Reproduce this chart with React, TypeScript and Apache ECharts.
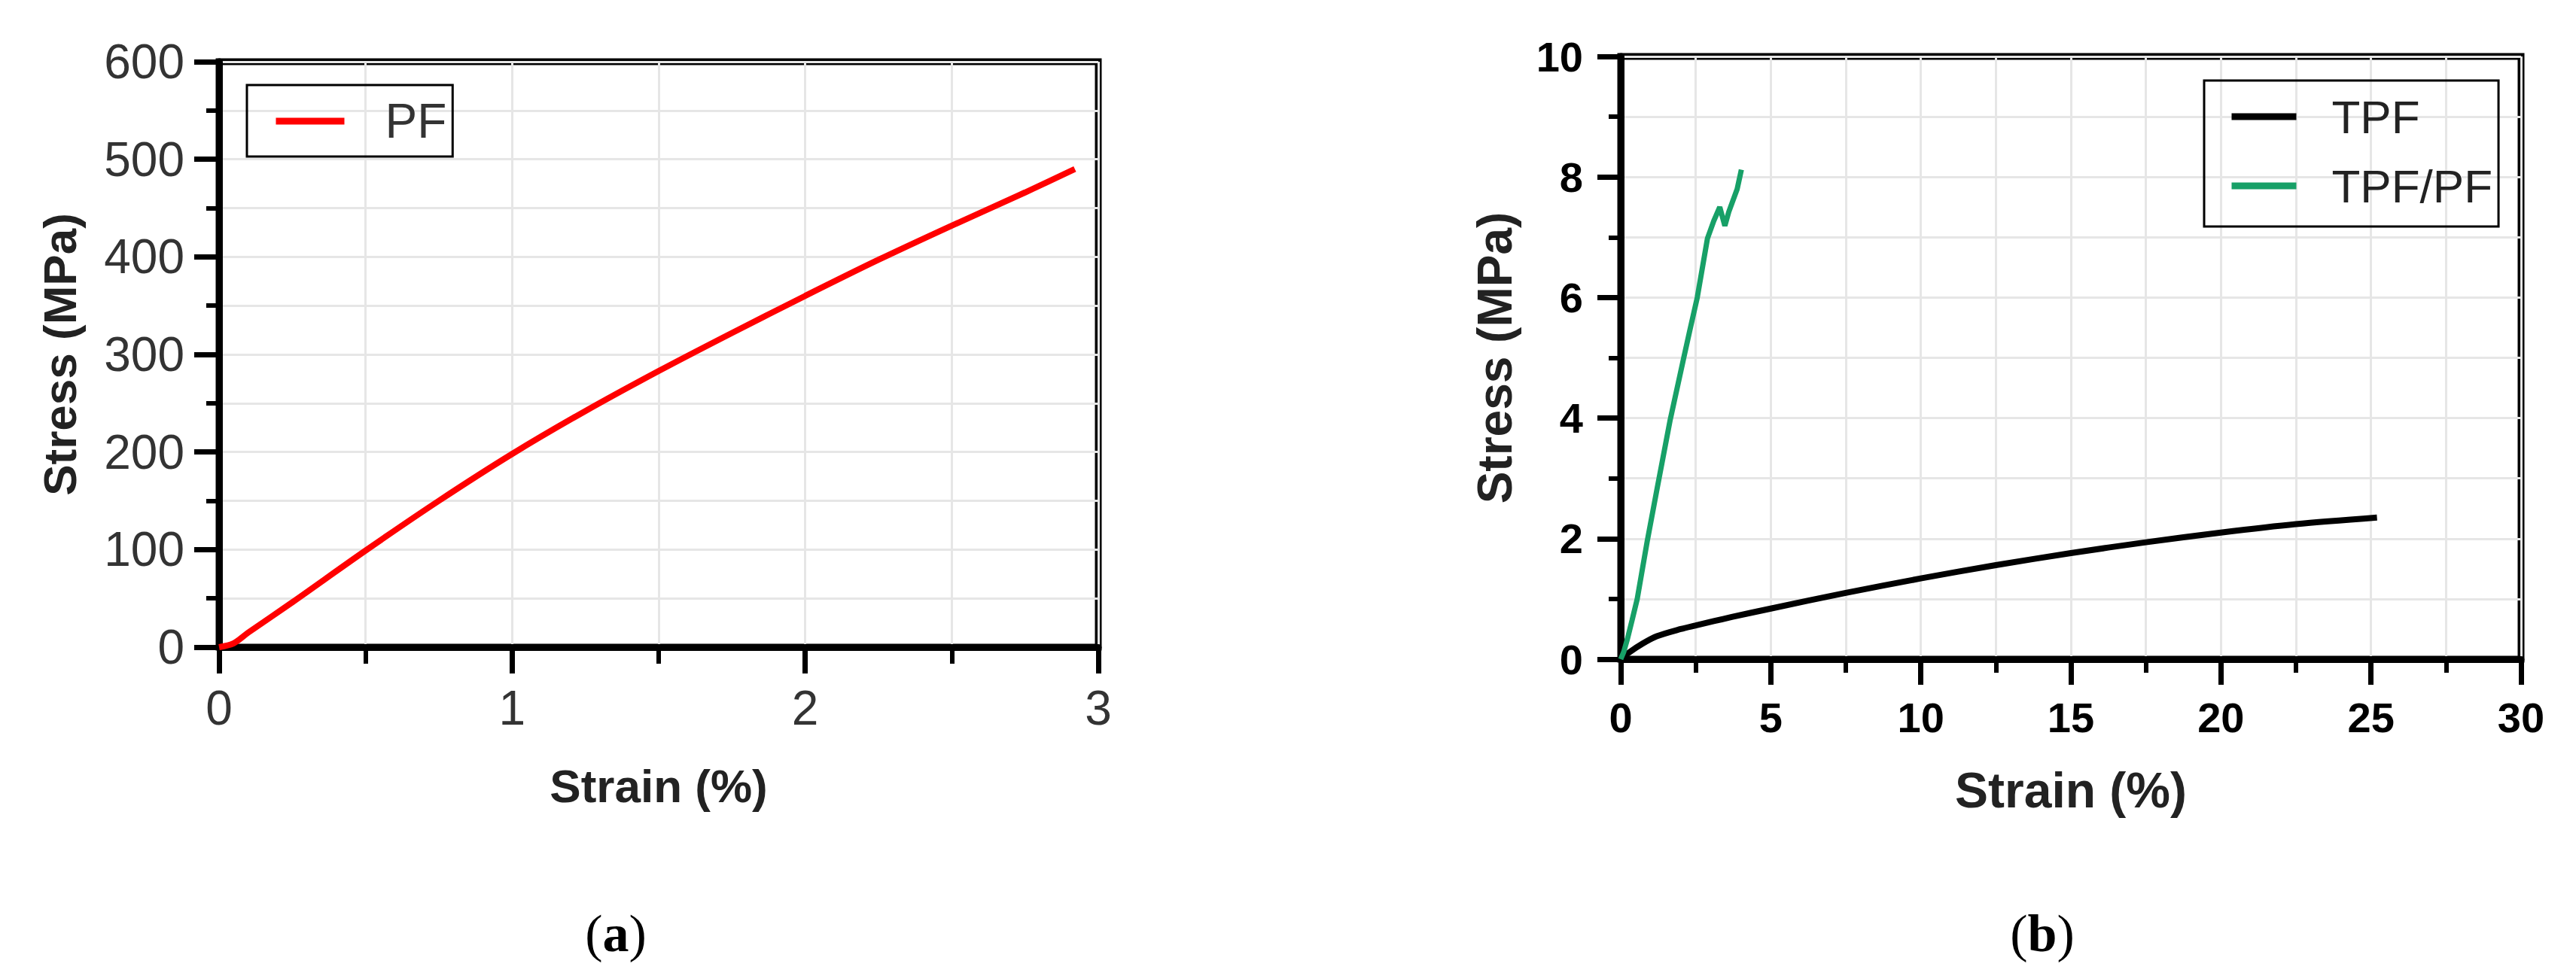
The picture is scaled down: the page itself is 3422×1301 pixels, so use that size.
import React, { useEffect, useRef } from "react";
import * as echarts from "echarts";

// Panel (a): PF
const pfStrain = [0, 0.05, 0.1, 0.25, 0.5, 0.75, 1, 1.25, 1.5, 1.75, 2, 2.25, 2.5, 2.75, 2.92];
const pfStress = [0, 4, 15, 46, 99, 150, 198, 242, 283, 322, 360, 397, 432, 466, 490];

// Panel (b): TPF and TPF/PF
const tpfStrain = [0, 0.3, 0.7, 1.2, 2, 2.5, 3.7, 5, 7.5, 10, 12.5, 15, 17.5, 20, 22.5, 25.2];
const tpfStress = [0, 0.12, 0.25, 0.38, 0.5, 0.56, 0.7, 0.84, 1.1, 1.34, 1.56, 1.76, 1.94, 2.1, 2.24, 2.35];
const tpfPfStrain = [0, 0.1, 0.22, 0.38, 0.55, 0.88, 1.22, 1.64, 2.1, 2.3, 2.55, 2.89, 3.1, 3.3, 3.47, 3.6, 3.88, 4.02];
const tpfPfStress = [0, 0.12, 0.33, 0.65, 1.0, 1.95, 2.85, 3.95, 5.0, 5.45, 6.0, 6.98, 7.27, 7.5, 7.19, 7.42, 7.8, 8.12];

const xTicksA = { min: 0, max: 3, interval: 1 };
const yTicksA = { min: 0, max: 600, interval: 100 };
const xTicksB = { min: 0, max: 30, interval: 5 };
const yTicksB = { min: 0, max: 10, interval: 2 };

const zip = (a: number[], b: number[]) => a.map((v, i) => [v, b[i]]);

const FONT = "'Liberation Sans', Arial, Helvetica, sans-serif";
const GRIDLINE = { color: "#e6e6e6", width: 3 };

function axisBase(opts: any) {
  return {
    type: "value",
    axisLine: { show: true, onZero: false, lineStyle: { color: "#000", width: 9 } },
    axisTick: { show: true, length: opts.tickLen, lineStyle: { color: "#000", width: 7 } },
    minorTick: { show: true, splitNumber: 2, length: opts.minorLen, lineStyle: { color: "#000", width: 6 } },
    splitLine: { show: true, lineStyle: GRIDLINE },
    minorSplitLine: { show: true, lineStyle: GRIDLINE },
  };
}

export default function App() {
  const ref = useRef<HTMLDivElement>(null);
  useEffect(() => {
    if (!ref.current) return;
    const chart = echarts.init(ref.current, undefined, { renderer: "svg" });
    const labelA = { fontFamily: FONT, fontSize: 64, color: "#333" };
    const labelB = { fontFamily: FONT, fontSize: 56, fontWeight: "bold", color: "#000" };
    const legendCommon = {
      orient: "vertical",
      borderColor: "#000",
      borderWidth: 3,
      borderRadius: 0,
      itemHeight: 2,
      itemStyle: { opacity: 0, borderWidth: 0 },
      lineStyle: { width: 9 },
    };
    const option: any = {
      animation: false,
      backgroundColor: "#fff",
      grid: [
        { left: 291, top: 82, width: 1168, height: 778, show: true, borderColor: "#000", borderWidth: 9, outerBoundsMode: "none" },
        { left: 2153, top: 75, width: 1196, height: 801, show: true, borderColor: "#000", borderWidth: 9, outerBoundsMode: "none" },
      ],
      xAxis: [
        {
          ...axisBase({ tickLen: 35, minorLen: 22 }),
          gridIndex: 0,
          ...xTicksA,
          name: "Strain (%)",
          nameLocation: "middle",
          nameGap: 153,
          nameTextStyle: { fontFamily: FONT, fontSize: 62, fontWeight: "bold", color: "#222" },
          axisLabel: { ...labelA, margin: 49 },
        },
        {
          ...axisBase({ tickLen: 34, minorLen: 18 }),
          gridIndex: 1,
          ...xTicksB,
          name: "Strain (%)",
          nameLocation: "middle",
          nameGap: 141,
          nameTextStyle: { fontFamily: FONT, fontSize: 66, fontWeight: "bold", color: "#222" },
          axisLabel: { ...labelB, margin: 49 },
        },
      ],
      yAxis: [
        {
          ...axisBase({ tickLen: 33, minorLen: 17 }),
          gridIndex: 0,
          ...yTicksA,
          name: "Stress (MPa)",
          nameLocation: "middle",
          nameGap: 181,
          nameTextStyle: { fontFamily: FONT, fontSize: 62, fontWeight: "bold", color: "#222" },
          axisLabel: { ...labelA, margin: 46 },
        },
        {
          ...axisBase({ tickLen: 31, minorLen: 16 }),
          gridIndex: 1,
          ...yTicksB,
          name: "Stress (MPa)",
          nameLocation: "middle",
          nameGap: 135,
          nameTextStyle: { fontFamily: FONT, fontSize: 64, fontWeight: "bold", color: "#222" },
          axisLabel: { ...labelB, margin: 50 },
        },
      ],
      legend: [
        {
          ...legendCommon,
          data: ["PF"],
          left: 328,
          top: 113,
          padding: [15, 8, 14, 34],
          itemWidth: 91,
          textStyle: { fontFamily: FONT, fontSize: 64, lineHeight: 66, color: "#333", padding: [0, 0, 0, 49] },
        },
        {
          ...legendCommon,
          data: ["TPF", "TPF/PF"],
          left: 2928,
          top: 107,
          padding: [16, 8, 22, 32],
          itemGap: 28,
          itemWidth: 86,
          textStyle: { fontFamily: FONT, fontSize: 62, lineHeight: 64, color: "#222", padding: [0, 0, 0, 42] },
        },
      ],
      series: [
        {
          name: "PF",
          type: "line",
          xAxisIndex: 0,
          yAxisIndex: 0,
          data: zip(pfStrain, pfStress),
          smooth: 0.3,
          symbol: "none",
          showSymbol: false,
          lineStyle: { color: "#ff0000", width: 8 },
          itemStyle: { color: "#ff0000" },
        },
        {
          name: "TPF",
          type: "line",
          xAxisIndex: 1,
          yAxisIndex: 1,
          data: zip(tpfStrain, tpfStress),
          smooth: 0.3,
          symbol: "none",
          showSymbol: false,
          lineStyle: { color: "#000", width: 8 },
          itemStyle: { color: "#000" },
        },
        {
          name: "TPF/PF",
          type: "line",
          xAxisIndex: 1,
          yAxisIndex: 1,
          data: zip(tpfPfStrain, tpfPfStress),
          smooth: false,
          symbol: "none",
          showSymbol: false,
          lineStyle: { color: "#17a067", width: 7 },
          itemStyle: { color: "#17a067" },
        },
      ],
      graphic: [
        {
          type: "text",
          x: 818,
          y: 1240,
          style: {
            text: "{p|(}{b|a}{p|)}",
            textAlign: "center",
            textVerticalAlign: "middle",
            rich: {
              p: { fontFamily: "'Liberation Serif', 'Times New Roman', serif", fontSize: 70, fill: "#000" },
              b: { fontFamily: "'Liberation Serif', 'Times New Roman', serif", fontSize: 70, fontWeight: "bold", fill: "#000" },
            },
          },
        },
        {
          type: "text",
          x: 2713,
          y: 1240,
          style: {
            text: "{p|(}{b|b}{p|)}",
            textAlign: "center",
            textVerticalAlign: "middle",
            rich: {
              p: { fontFamily: "'Liberation Serif', 'Times New Roman', serif", fontSize: 70, fill: "#000" },
              b: { fontFamily: "'Liberation Serif', 'Times New Roman', serif", fontSize: 70, fontWeight: "bold", fill: "#000" },
            },
          },
        },
      ],
    };
    chart.setOption(option);
    return () => chart.dispose();
  }, []);
  return (
    <div
      ref={ref}
      style={{ position: "absolute", left: 0, top: 0, width: 3422, height: 1301, background: "#fff" }}
    />
  );
}
